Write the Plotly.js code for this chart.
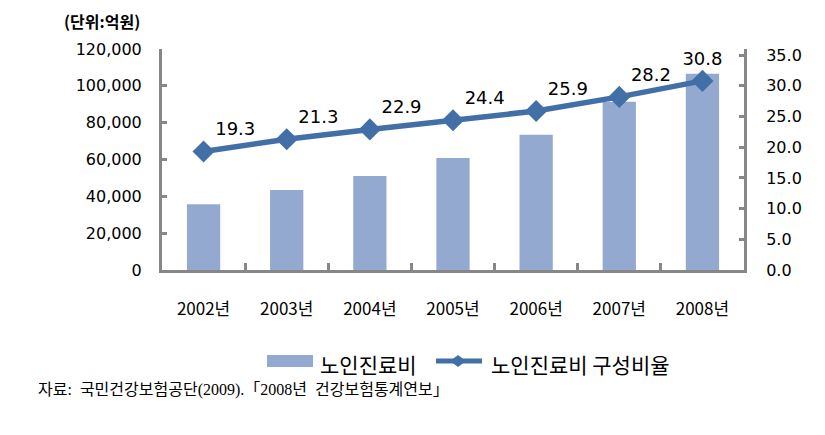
<!DOCTYPE html>
<html>
<head>
<meta charset="utf-8">
<script src="https://cdn.plot.ly/plotly-3.0.1.min.js"></script>
<style>
  html, body { margin: 0; padding: 0; background: #fff; }
  #chart { width: 825px; height: 435px; }
</style>
</head>
<body>
<div id="chart"></div>
<script>
// values
var years = ['2002년', '2003년', '2004년', '2005년', '2006년', '2007년', '2008년'];
var cost = [35700, 43400, 51000, 60800, 73400, 91400, 106600];   // 억원
var ratio = [19.3, 21.3, 22.9, 24.4, 25.9, 28.2, 30.8];          // %
var labelPos = ['top right', 'top right', 'top right', 'top right', 'top right', 'top right', 'top center'];

var barName = '노인진료비';
var lineName = '노인진료비 구성비율';
var unitText = '(단위:억원)';
var sourceText = '자료:  국민건강보험공단(2009).「2008년  건강보험통계연보」';

var barColor = '#94a9d0';
var lineColor = '#4270a6';
var axisColor = '#878787';

// plot area in pixels, used to place the hand drawn legend
var W = 825, H = 435;
var margin = { l: 162, r: 81, t: 49, b: 165, pad: 0 };
var plotW = W - margin.l - margin.r;
var plotH = H - margin.t - margin.b;
function px(x) { return (x - margin.l) / plotW; }
function py(y) { return (H - margin.b - y) / plotH; }

var data = [
  {
    x: years,
    y: cost,
    type: 'bar',
    name: barName,
    width: 0.4,
    marker: { color: barColor },
    hoverinfo: 'x+y'
  },
  {
    x: years,
    y: ratio,
    type: 'scatter',
    mode: 'lines+markers+text',
    name: lineName,
    yaxis: 'y2',
    line: { color: lineColor, width: 5.5 },
    marker: { symbol: 'diamond', size: 17, color: lineColor },
    text: ratio.map(v => v.toFixed(1)),
    textposition: labelPos,
    textfont: { family: 'DejaVu Sans', size: 18, color: '#000' },
    cliponaxis: false
  }
];

// legend drawn by hand so the bar swatch is a wide block like the original
var dy = 6 / plotH, dx = 8 / plotW;
var dcx = px(458), dcy = py(361);
var shapes = [
  { type: 'rect', xref: 'paper', yref: 'paper',
    x0: px(267), x1: px(313), y0: py(367), y1: py(355),
    fillcolor: barColor, line: { width: 0 } },
  { type: 'line', xref: 'paper', yref: 'paper',
    x0: px(436), x1: px(482), y0: dcy, y1: dcy,
    line: { color: lineColor, width: 5 } },
  { type: 'path', xref: 'paper', yref: 'paper',
    path: 'M' + (dcx - dx) + ',' + dcy + ' L' + dcx + ',' + (dcy + dy) +
          ' L' + (dcx + dx) + ',' + dcy + ' L' + dcx + ',' + (dcy - dy) + ' Z',
    fillcolor: lineColor, line: { width: 0 } }
];

var annotations = [
  { text: barName, xref: 'paper', yref: 'paper', x: px(318), y: py(364),
    xanchor: 'left', yanchor: 'middle', showarrow: false,
    font: { family: 'Noto Sans CJK KR', size: 21, color: '#000' } },
  { text: lineName, xref: 'paper', yref: 'paper', x: px(489), y: py(364),
    xanchor: 'left', yanchor: 'middle', showarrow: false,
    font: { family: 'Noto Sans CJK KR', size: 21, color: '#000' } },
  { text: '<b>' + unitText + '</b>', xref: 'paper', yref: 'paper', x: px(102), y: py(21),
    xanchor: 'center', yanchor: 'middle', showarrow: false,
    font: { family: 'Noto Sans CJK KR', size: 16, color: '#000' } },
  { text: sourceText, xref: 'paper', yref: 'paper', x: px(36), y: py(390),
    xanchor: 'left', yanchor: 'middle', showarrow: false,
    font: { family: 'Liberation Serif, Noto Sans CJK KR', size: 16, color: '#000' } }
];

var layout = {
  width: W,
  height: H,
  margin: margin,
  paper_bgcolor: '#fff',
  plot_bgcolor: '#fff',
  showlegend: false,
  bargap: 0.6,
  xaxis: {
    type: 'category',
    showline: true,
    linecolor: axisColor,
    linewidth: 3,
    ticks: 'inside',
    tickson: 'boundaries',
    ticklen: 7,
    tickwidth: 3,
    tickcolor: axisColor,
    ticklabelstandoff: 22,
    tickfont: { family: 'Noto Sans CJK KR', size: 17, color: '#000' },
    showgrid: false,
    zeroline: false
  },
  yaxis: {
    range: [0, 120000],
    dtick: 20000,
    tickformat: ',d',
    showline: true,
    linecolor: axisColor,
    linewidth: 3,
    ticks: 'inside',
    ticklen: 5,
    tickwidth: 3,
    tickcolor: axisColor,
    ticklabelstandoff: 14,
    tickfont: { family: 'DejaVu Sans', size: 16, color: '#000' },
    showgrid: false,
    zeroline: false
  },
  yaxis2: {
    overlaying: 'y',
    side: 'right',
    range: [0, 36],
    dtick: 5,
    tick0: 0,
    tickformat: '.1f',
    showline: true,
    linecolor: axisColor,
    linewidth: 3,
    ticks: 'inside',
    ticklen: 5,
    tickwidth: 3,
    tickcolor: axisColor,
    ticklabelstandoff: 16,
    tickfont: { family: 'DejaVu Sans', size: 16, color: '#000' },
    showgrid: false,
    zeroline: false
  },
  shapes: shapes,
  annotations: annotations
};

Plotly.newPlot('chart', data, layout, { displayModeBar: false, staticPlot: true });
</script>
</body>
</html>
